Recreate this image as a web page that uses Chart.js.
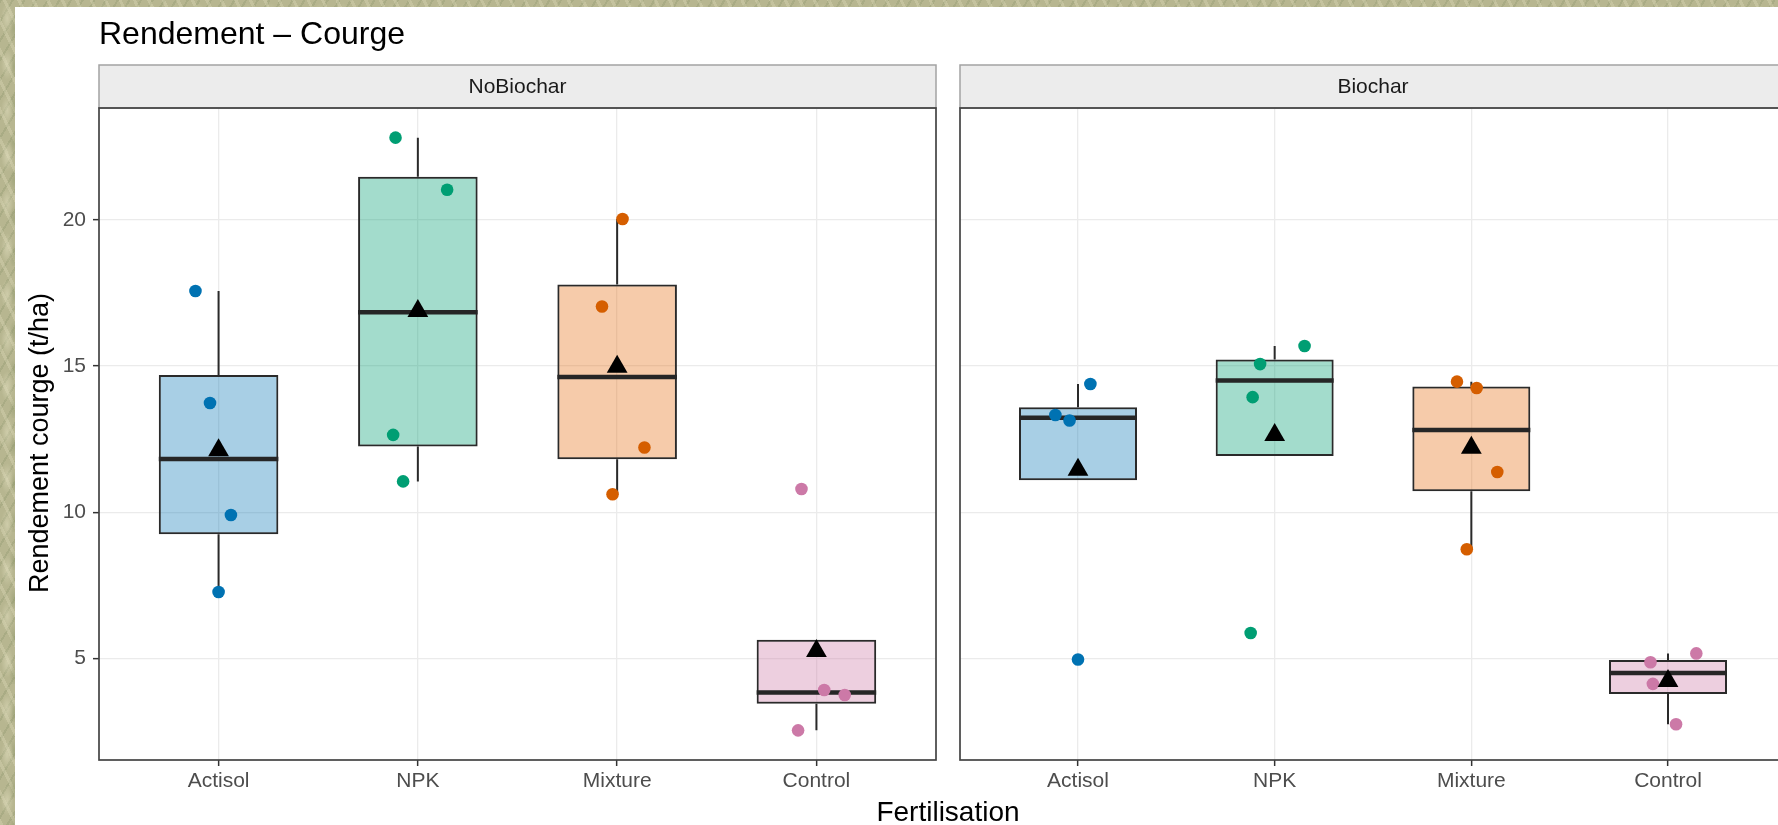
<!DOCTYPE html>
<html>
<head>
<meta charset="utf-8">
<title>Rendement – Courge</title>
<script src="https://cdn.jsdelivr.net/npm/chart.js@4.4.1/dist/chart.umd.min.js"></script>
<style>
  html, body { margin: 0; padding: 0; width: 1778px; height: 825px; overflow: hidden; }
  body {
    position: relative;
    background-color: #b7b690;
    background-image:
      radial-gradient(ellipse 9px 22px at 30% 40%, rgba(225,222,190,0.55), transparent 70%),
      radial-gradient(ellipse 7px 18px at 70% 75%, rgba(140,150,105,0.45), transparent 70%),
      repeating-linear-gradient(64deg, rgba(228,224,192,0.30) 0 3px, transparent 3px 13px),
      repeating-linear-gradient(121deg, rgba(128,140,98,0.25) 0 2px, transparent 2px 10px);
    background-size: 24px 46px, 20px 38px, auto, auto;
  }
  #sheet { position: absolute; left: 15px; top: 7px; right: 0; bottom: 0; background: #ffffff; }
  canvas { position: absolute; top: 0; }
  #panelNo { left: 0; }
  #panelBio { left: 948px; }
  #xTitle {
    position: absolute; left: 748px; width: 400px; top: 798px;
    font: 28px "Liberation Sans", Arial, sans-serif; line-height: 28px;
    color: #000; text-align: center; white-space: nowrap;
  }
</style>
</head>
<body>
<div id="sheet"></div>
<canvas id="panelNo" width="948" height="825"></canvas>
<canvas id="panelBio" width="850" height="825"></canvas>
<div id="xTitle">Fertilisation</div>
<script>
// Fertiliser treatments (x axis) and biochar facets
const categories = ['Actisol', 'NPK', 'Mixture', 'Control'];
const facetNames = ['NoBiochar', 'Biochar'];
const yTicks = [5, 10, 15, 20];

// Squash yield per plot, t/ha (four plots per treatment)
const actisolNoBiochar = [17.57, 13.74, 9.91, 7.28];
const npkNoBiochar     = [22.81, 21.03, 12.65, 11.06];
const mixtureNoBiochar = [20.03, 17.04, 12.22, 10.62];
const controlNoBiochar = [10.80, 3.93, 3.76, 2.55];

const actisolBiochar = [14.39, 13.33, 13.14, 4.97];
const npkBiochar     = [15.69, 15.07, 13.94, 5.88];
const mixtureBiochar = [14.47, 14.25, 11.38, 8.74];
const controlBiochar = [5.18, 4.88, 4.14, 2.76];

// Horizontal jitter of the plot points, in category units
const jitterNoBiochar = [
  [-0.116, -0.043, 0.062, 0.000],
  [-0.112, 0.147, -0.124, -0.074],
  [0.027, -0.076, 0.137, -0.023],
  [-0.075, 0.039, 0.142, -0.092]
];
const jitterBiochar = [
  [0.063, -0.115, -0.043, 0.000],
  [0.152, -0.074, -0.112, -0.122],
  [-0.073, 0.027, 0.132, -0.023],
  [0.144, -0.089, -0.077, 0.041]
];

const pointColors = ['#0072B2', '#009E73', '#D55E00', '#CC79A7'];
const boxFills = ['rgba(0,114,178,0.34)', 'rgba(0,158,115,0.36)', 'rgba(230,110,20,0.36)', 'rgba(204,121,167,0.36)'];

const facetValues = [
  [actisolNoBiochar, npkNoBiochar, mixtureNoBiochar, controlNoBiochar],
  [actisolBiochar, npkBiochar, mixtureBiochar, controlBiochar]
];
const facetJitter = [jitterNoBiochar, jitterBiochar];

// Tukey box statistics (quantile type 7, whiskers at 1.5 IQR)
function quantile(sorted, p) {
  const h = (sorted.length - 1) * p;
  const lo = Math.floor(h);
  const hi = Math.min(lo + 1, sorted.length - 1);
  return sorted[lo] + (h - lo) * (sorted[hi] - sorted[lo]);
}
function boxStats(values) {
  const s = values.slice().sort((a, b) => a - b);
  const q1 = quantile(s, 0.25), med = quantile(s, 0.5), q3 = quantile(s, 0.75);
  const iqr = q3 - q1;
  const kept = s.filter(v => v >= q1 - 1.5 * iqr && v <= q3 + 1.5 * iqr);
  const lo = Math.min(q1, ...kept), hi = Math.max(q3, ...kept);
  const mean = s.reduce((a, b) => a + b, 0) / s.length;
  return { q1, med, q3, lo, hi, mean };
}

// Shared y range: data range expanded by 5 % on each side
const allValues = facetValues.flat(2);
const yMinData = Math.min(...allValues), yMaxData = Math.max(...allValues);
const yPad = 0.05 * (yMaxData - yMinData);
const yMin = yMinData - yPad, yMax = yMaxData + yPad;

const FONT = '"Liberation Sans", Arial, sans-serif';
Chart.defaults.font.family = FONT;

function buildDatasets(f) {
  const stats = facetValues[f].map(boxStats);
  const whiskers = [], medians = [], points = [], pointCols = [], means = [];
  stats.forEach((st, i) => {
    const x = i + 1;
    whiskers.push({ x, y: st.q3 }, { x, y: st.hi }, { x, y: null },
                  { x, y: st.q1 }, { x, y: st.lo }, { x, y: null });
    medians.push({ x: x - 0.3, y: st.med }, { x: x + 0.3, y: st.med }, { x, y: null });
    means.push({ x, y: st.mean });
    facetValues[f][i].forEach((v, k) => {
      points.push({ x: x + facetJitter[f][i][k], y: v });
      pointCols.push(pointColors[i]);
    });
  });
  return [
    {
      type: 'bar', order: 4,
      data: stats.map((st, i) => ({ x: i + 1, y: [st.q1, st.q3] })),
      backgroundColor: boxFills, borderColor: '#2a2a2a', borderWidth: 2,
      borderSkipped: false, barPercentage: 0.6, categoryPercentage: 1.0
    },
    {
      type: 'line', order: 3, data: whiskers, borderColor: '#2a2a2a', borderWidth: 2,
      pointRadius: 0, spanGaps: false, fill: false
    },
    {
      type: 'line', order: 3, data: medians, borderColor: '#262626', borderWidth: 4.5,
      borderCapStyle: 'butt', pointRadius: 0, spanGaps: false, fill: false
    },
    {
      type: 'scatter', order: 2, data: points, pointBackgroundColor: pointCols,
      pointBorderWidth: 0, pointRadius: 6.3, pointHoverRadius: 6.3
    },
    {
      type: 'scatter', order: 1, data: means, pointStyle: 'triangle',
      pointBackgroundColor: '#000000', pointBorderColor: '#000000', pointBorderWidth: 0,
      pointRadius: 12, pointHoverRadius: 12
    }
  ];
}

// Panel frame, facet strip and (left panel only) plot title and y-axis title
const facetDecor = {
  id: 'facetDecor',
  afterDraw(chart, args, opts) {
    const { ctx, chartArea: a } = chart;
    ctx.save();
    // strip
    ctx.fillStyle = '#ececec';
    ctx.fillRect(a.left, 65, a.right - a.left, a.top - 65);
    ctx.strokeStyle = '#a3a3a3';
    ctx.lineWidth = 1.5;
    ctx.strokeRect(a.left, 65, a.right - a.left, a.top - 65);
    ctx.fillStyle = '#1a1a1a';
    ctx.font = '21px ' + FONT;
    ctx.textAlign = 'center';
    ctx.textBaseline = 'middle';
    ctx.fillText(opts.label, (a.left + a.right) / 2, (65 + a.top) / 2 + 1);
    // panel border
    ctx.strokeStyle = '#444444';
    ctx.lineWidth = 1.7;
    ctx.strokeRect(a.left, a.top, a.right - a.left, a.bottom - a.top);
    if (opts.withTitles) {
      ctx.fillStyle = '#000000';
      ctx.textAlign = 'left';
      ctx.textBaseline = 'alphabetic';
      ctx.font = '32px ' + FONT;
      ctx.fillText('Rendement – Courge', 99, 44);
      ctx.translate(41, 443);
      ctx.rotate(-Math.PI / 2);
      ctx.textAlign = 'center';
      ctx.textBaseline = 'middle';
      ctx.font = '27px ' + FONT;
      ctx.fillText('Rendement courge (t/ha)', 0, 0);
    }
    ctx.restore();
  }
};

function makeChart(canvasId, f) {
  const first = f === 0;
  return new Chart(document.getElementById(canvasId), {
    type: 'bar',
    data: { datasets: buildDatasets(f) },
    plugins: [facetDecor],
    options: {
      responsive: false,
      animation: false,
      devicePixelRatio: 1,
      layout: { padding: first ? { left: 21, top: 108, right: 7, bottom: 0 }
                               : { left: 8, top: 108, right: 0, bottom: 0 } },
      plugins: {
        legend: { display: false },
        tooltip: { enabled: false },
        title: { display: false },
        facetDecor: { label: facetNames[f], withTitles: first }
      },
      scales: {
        x: {
          type: 'linear', min: 0.4, max: 4.6, offset: false,
          afterBuildTicks: s => { s.ticks = categories.map((c, i) => ({ value: i + 1 })); },
          afterFit: s => { s.height = 65; },
          ticks: {
            callback: v => categories[Math.round(v) - 1],
            font: { size: 21 }, color: '#4d4d4d', padding: 3,
            autoSkip: false, maxRotation: 0
          },
          grid: { offset: false, color: '#ebebeb', lineWidth: 1.3, tickColor: '#333333',
                  tickLength: 6, tickWidth: 1.5, drawTicks: true },
          border: { display: false }
        },
        y: {
          type: 'linear', min: yMin, max: yMax,
          afterBuildTicks: s => { s.ticks = yTicks.map(v => ({ value: v })); },
          afterFit: s => { s.width = first ? 78 : 0; },
          ticks: {
            display: first, font: { size: 21 }, color: '#4d4d4d', padding: 7
          },
          grid: { color: '#ebebeb', lineWidth: 1.3, tickColor: '#333333',
                  tickLength: 6, tickWidth: 1.5, drawTicks: first },
          border: { display: false }
        }
      }
    }
  });
}

makeChart('panelNo', 0);
makeChart('panelBio', 1);
</script>
</body>
</html>
